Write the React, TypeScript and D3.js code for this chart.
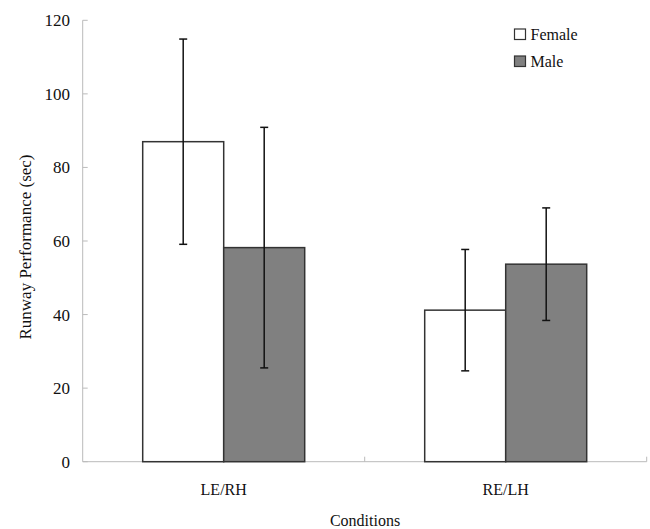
import React from "react";
import * as d3 from "d3";

const conditions = ["LE/RH", "RE/LH"];
const groups = ["Female", "Male"];
const femaleMeans = [87.0, 41.2];
const femaleErr = [27.9, 16.5];
const maleMeans = [58.2, 53.7];
const maleErr = [32.7, 15.3];
const yTicks = [0, 20, 40, 60, 80, 100, 120];
const fills = ["#ffffff", "#808080"];

const W = 650;
const H = 529;
const left = 82.7;
const right = 646.7;
const top = 20.3;
const bottom = 461.7;
const groupPad = 60;
const font = "'Liberation Serif', 'Times New Roman', serif";

export default function App() {
  const x = d3.scaleBand().domain(conditions).range([left, right]).paddingInner(0).paddingOuter(0);
  const inner = d3
    .scaleBand()
    .domain(groups)
    .range([groupPad, x.bandwidth() - groupPad])
    .padding(0);
  const y = d3.scaleLinear().domain([0, 120]).range([bottom, top]);

  const series = [
    { name: "Female", means: femaleMeans, errs: femaleErr },
    { name: "Male", means: maleMeans, errs: maleErr },
  ];

  return (
    <svg
      width={W}
      height={H}
      style={{ position: "absolute", left: 0, top: 0, background: "#fff" }}
      fontFamily={font}
    >
      {/* axes */}
      <line x1={left} x2={left} y1={top} y2={bottom} stroke="#bbb" strokeWidth={1} />
      <line x1={left} x2={right} y1={bottom} y2={bottom} stroke="#bbb" strokeWidth={1} />
      {yTicks.map((t) => (
        <g key={t}>
          <line x1={left} x2={left + 5} y1={y(t)} y2={y(t)} stroke="#bbb" />
          <text x={70} y={y(t)} dy="0.35em" textAnchor="end" fontSize={17} fill="#111">
            {t}
          </text>
        </g>
      ))}
      {conditions.map((c) => (
        <g key={c}>
          <line
            x1={(x(c) ?? 0) + x.bandwidth()}
            x2={(x(c) ?? 0) + x.bandwidth()}
            y1={bottom - 5}
            y2={bottom}
            stroke="#bbb"
          />
          <text
            x={(x(c) ?? 0) + x.bandwidth() / 2}
            y={489}
            dy="0.35em"
            textAnchor="middle"
            fontSize={16}
            fill="#111"
          >
            {c}
          </text>
        </g>
      ))}

      {/* bars */}
      {series.map((s, si) =>
        conditions.map((c, ci) => {
          const bx = (x(c) ?? 0) + (inner(s.name) ?? 0);
          const bw = inner.bandwidth();
          return (
            <rect
              key={s.name + c}
              x={bx}
              y={y(s.means[ci])}
              width={bw}
              height={bottom - y(s.means[ci])}
              fill={fills[si]}
              stroke="#333"
              strokeWidth={1.5}
            />
          );
        })
      )}

      {/* error bars */}
      {series.map((s) =>
        conditions.map((c, ci) => {
          const cx = (x(c) ?? 0) + (inner(s.name) ?? 0) + inner.bandwidth() / 2;
          const hi = y(s.means[ci] + s.errs[ci]);
          const lo = y(s.means[ci] - s.errs[ci]);
          return (
            <g key={"e" + s.name + c} stroke="#111" strokeWidth={1.5}>
              <line x1={cx} x2={cx} y1={hi} y2={lo} />
              <line x1={cx - 4} x2={cx + 4} y1={hi} y2={hi} />
              <line x1={cx - 4} x2={cx + 4} y1={lo} y2={lo} />
            </g>
          );
        })
      )}

      {/* legend */}
      {groups.map((g, i) => (
        <g key={g} transform={`translate(514.5, ${29 + i * 27})`}>
          <rect x={0} y={0} width={11} height={10.5} fill={fills[i]} stroke="#333" strokeWidth={1.2} />
          <text x={16} y={5.5} dy="0.35em" fontSize={16} fill="#111">
            {g}
          </text>
        </g>
      ))}

      {/* axis titles */}
      <text
        transform={`translate(25, 247) rotate(-90)`}
        dy="0.35em"
        textAnchor="middle"
        fontSize={17}
        fill="#111"
      >
        Runway Performance (sec)
      </text>
      <text x={365} y={520} dy="0.35em" textAnchor="middle" fontSize={16} fill="#111">
        Conditions
      </text>
    </svg>
  );
}
